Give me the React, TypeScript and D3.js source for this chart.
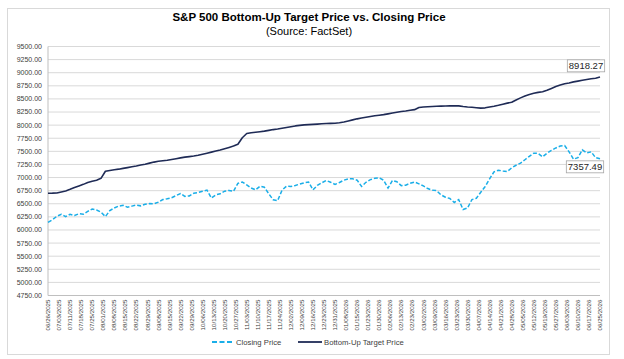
import { useEffect, useRef } from "react";
import * as d3 from "d3";

// ─── Data ────────────────────────────────────────────────────────────────────
// category labels, one every 5th trading day
const dateLabels = [
  "06/26/2025", "07/03/2025", "07/11/2025", "07/18/2025", "07/25/2025",
  "08/01/2025", "08/08/2025", "08/15/2025", "08/22/2025", "08/29/2025",
  "09/08/2025", "09/15/2025", "09/22/2025", "09/29/2025", "10/06/2025",
  "10/13/2025", "10/20/2025", "10/27/2025", "11/03/2025", "11/10/2025",
  "11/17/2025", "11/24/2025", "12/02/2025", "12/09/2025", "12/16/2025",
  "12/23/2025", "12/31/2025", "01/08/2026", "01/15/2026", "01/23/2026",
  "01/30/2026", "02/06/2026", "02/13/2026", "02/23/2026", "03/02/2026",
  "03/09/2026", "03/16/2026", "03/23/2026", "03/30/2026", "04/07/2026",
  "04/14/2026", "04/21/2026", "04/28/2026", "05/05/2026", "05/12/2026",
  "05/19/2026", "05/27/2026", "06/03/2026", "06/10/2026", "06/17/2026",
  "06/25/2026",
];

const LABEL_STEP = 5; // trading days between labels
const SAMPLE_STEP = 2; // trading days between values below

// closing price, every 2nd trading day
const closingPrice = [
  6146, 6195, 6260, 6300, 6255, 6300, 6275, 6310, 6300, 6355,
  6400, 6380, 6340, 6255, 6370, 6420, 6455, 6470, 6435, 6455,
  6475, 6460, 6490, 6505, 6500, 6530, 6580, 6595, 6615, 6655,
  6695, 6640, 6650, 6700, 6715, 6740, 6760, 6610, 6670, 6690,
  6740, 6755, 6735, 6890, 6915, 6860, 6800, 6765, 6835, 6815,
  6690, 6575, 6560, 6760, 6835, 6830, 6850, 6875, 6900, 6915,
  6765, 6850, 6900, 6945, 6910, 6870, 6905, 6950, 6975, 6975,
  6950, 6830, 6910, 6960, 6985, 6995, 6950, 6800, 6945, 6920,
  6845, 6855, 6890, 6915, 6880, 6840, 6790, 6760, 6750, 6670,
  6625, 6600, 6525, 6580, 6390, 6420, 6580, 6605, 6720, 6830,
  6975, 7110, 7140, 7125, 7115, 7185, 7235, 7275, 7340, 7405,
  7465, 7460, 7395, 7465, 7520, 7565, 7600, 7610, 7490, 7350,
  7380, 7530, 7470, 7490, 7380, 7357.49,
];

// bottom-up target price, every 2nd trading day
const targetPrice = [
  6700, 6702, 6706, 6725, 6745, 6775, 6810, 6840, 6870, 6905,
  6930, 6950, 6985, 7120, 7135, 7150, 7160, 7175, 7190, 7205,
  7220, 7240, 7255, 7275, 7295, 7310, 7320, 7330, 7345, 7360,
  7375, 7390, 7400, 7410, 7425, 7445, 7465, 7485, 7505, 7525,
  7550, 7575, 7600, 7635, 7760, 7840, 7855, 7865, 7875, 7885,
  7900, 7915, 7925, 7940, 7955, 7970, 7985, 7995, 8005, 8010,
  8015, 8020, 8025, 8030, 8033, 8035, 8045, 8060, 8080, 8100,
  8120, 8135, 8150, 8165, 8180, 8190, 8200, 8215, 8230, 8245,
  8260, 8270, 8285, 8295, 8335, 8345, 8350, 8355, 8360, 8362,
  8365, 8368, 8370, 8368, 8355, 8345, 8340, 8332, 8325, 8330,
  8345, 8360, 8378, 8400, 8420, 8435, 8480, 8520, 8555, 8585,
  8607, 8625, 8638, 8665, 8700, 8735, 8765, 8790, 8805, 8825,
  8840, 8855, 8870, 8885, 8895, 8918.27,
];

const yTicks = [
  4750, 5000, 5250, 5500, 5750, 6000, 6250, 6500, 6750, 7000,
  7250, 7500, 7750, 8000, 8250, 8500, 8750, 9000, 9250, 9500,
];

const CLOSE_COLOR = "#1aaee8";
const TARGET_COLOR = "#1f2b56";
const FONT = "Arial, 'Liberation Sans', sans-serif";

export default function App() {
  const svgRef = useRef<SVGSVGElement>(null);

  useEffect(() => {
    if (!svgRef.current) return;
    const svg = d3.select(svgRef.current);
    svg.selectAll("*").remove();

    const plot = { left: 48, right: 600, top: 46.5, bottom: 295.5 };
    const lastDay = (dateLabels.length - 1) * LABEL_STEP;

    const x = d3.scaleLinear().domain([0, lastDay]).range([plot.left, plot.right]);
    const y = d3.scaleLinear().domain([4750, 9500]).range([plot.bottom, plot.top]);

    // ── chart frame ──
    svg.append("rect")
      .attr("x", 7.5).attr("y", 8.5)
      .attr("width", 602).attr("height", 346)
      .attr("fill", "white")
      .attr("stroke", "#d9d9d9");

    // ── title ──
    svg.append("text")
      .attr("x", 309).attr("y", 21)
      .attr("text-anchor", "middle")
      .attr("font-family", FONT)
      .attr("font-size", 11.5)
      .attr("font-weight", "bold")
      .attr("fill", "#000")
      .text("S&P 500 Bottom-Up Target Price vs. Closing Price");
    svg.append("text")
      .attr("x", 309).attr("y", 35)
      .attr("text-anchor", "middle")
      .attr("font-family", FONT)
      .attr("font-size", 11)
      .attr("fill", "#000")
      .text("(Source: FactSet)");

    // ── gridlines ──
    svg.append("g")
      .selectAll("line")
      .data(yTicks)
      .join("line")
      .attr("x1", plot.left).attr("x2", plot.right)
      .attr("y1", (d) => y(d)).attr("y2", (d) => y(d))
      .attr("stroke", "#d9d9d9")
      .attr("stroke-width", 1);

    // axis lines
    svg.append("line")
      .attr("x1", plot.left).attr("x2", plot.left)
      .attr("y1", plot.top).attr("y2", plot.bottom)
      .attr("stroke", "#bfbfbf");
    svg.append("line")
      .attr("x1", plot.left).attr("x2", plot.right)
      .attr("y1", plot.bottom).attr("y2", plot.bottom)
      .attr("stroke", "#bfbfbf");

    // ── y labels ──
    svg.append("g")
      .selectAll("text")
      .data(yTicks)
      .join("text")
      .attr("x", 42)
      .attr("y", (d) => y(d))
      .attr("dy", "0.35em")
      .attr("text-anchor", "end")
      .attr("font-family", FONT)
      .attr("font-size", 7)
      .attr("fill", "#404040")
      .text((d) => d3.format(".2f")(d));

    // ── x labels (rotated) ──
    svg.append("g")
      .selectAll("text")
      .data(dateLabels)
      .join("text")
      .attr("transform", (_, i) => `translate(${x(i * LABEL_STEP)},${plot.bottom + 4}) rotate(-90)`)
      .attr("dy", "0.35em")
      .attr("text-anchor", "end")
      .attr("font-family", FONT)
      .attr("font-size", 6.2)
      .attr("fill", "#404040")
      .text((d) => d);

    // ── lines ──
    const line = d3.line<number>()
      .x((_, i) => x(i * SAMPLE_STEP))
      .y((d) => y(d));

    svg.append("path")
      .datum(targetPrice)
      .attr("d", line)
      .attr("fill", "none")
      .attr("stroke", TARGET_COLOR)
      .attr("stroke-width", 1.6)
      .attr("stroke-linejoin", "round");

    svg.append("path")
      .datum(closingPrice)
      .attr("d", line)
      .attr("fill", "none")
      .attr("stroke", CLOSE_COLOR)
      .attr("stroke-width", 1.5)
      .attr("stroke-dasharray", "4 2");

    // ── end-value callouts ──
    const callout = (value: number, cx: number, cy: number) => {
      const g = svg.append("g");
      const t = g.append("text")
        .attr("x", cx).attr("y", cy)
        .attr("dy", "0.35em")
        .attr("text-anchor", "middle")
        .attr("font-family", FONT)
        .attr("font-size", 9.5)
        .attr("fill", "#262626")
        .text(d3.format(".2f")(value));
      const bb = (t.node() as SVGTextElement).getBBox();
      g.insert("rect", "text")
        .attr("x", bb.x - 1.5).attr("y", bb.y - 0.5)
        .attr("width", bb.width + 3).attr("height", bb.height + 1)
        .attr("fill", "white")
        .attr("stroke", "#a6a6a6")
        .attr("stroke-width", 0.8);
    };
    callout(targetPrice[targetPrice.length - 1], 586, 66);
    callout(closingPrice[closingPrice.length - 1], 585, 167);

    // ── legend ──
    const legY = 342;
    const legend = svg.append("g").attr("font-family", FONT).attr("font-size", 7.7).attr("fill", "#404040");
    legend.append("line")
      .attr("x1", 212).attr("x2", 232).attr("y1", legY).attr("y2", legY)
      .attr("stroke", CLOSE_COLOR).attr("stroke-width", 1.8).attr("stroke-dasharray", "5 2.5");
    legend.append("text").attr("x", 236).attr("y", legY).attr("dy", "0.35em").text("Closing Price");
    legend.append("line")
      .attr("x1", 298).attr("x2", 322).attr("y1", legY).attr("y2", legY)
      .attr("stroke", TARGET_COLOR).attr("stroke-width", 1.8);
    legend.append("text").attr("x", 324).attr("y", legY).attr("dy", "0.35em").text("Bottom-Up Target Price");
  }, []);

  return (
    <svg
      ref={svgRef}
      width={624}
      height={359}
      viewBox="0 0 624 359"
      style={{ position: "absolute", left: 0, top: 0, background: "white" }}
    />
  );
}
